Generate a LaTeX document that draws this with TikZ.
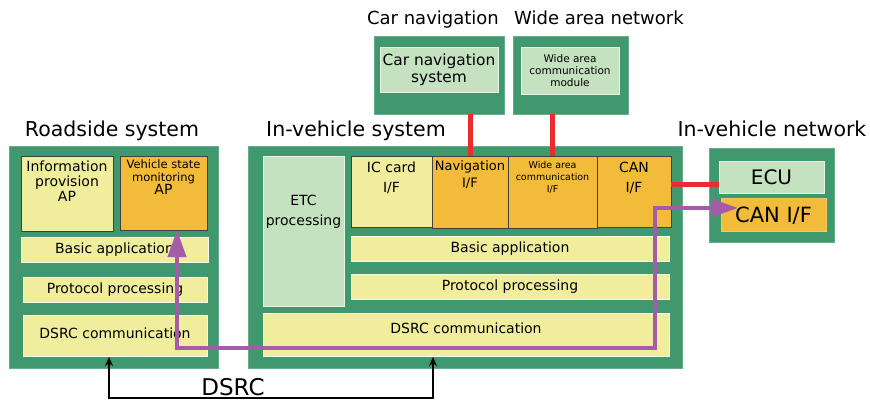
\documentclass[tikz,border=0pt]{standalone}
\usepackage{fontspec}
\setmainfont{DejaVu Sans}
\usetikzlibrary{fit,arrows.meta,calc}
\definecolor{grn}{RGB}{64,152,110}
\definecolor{ylw}{RGB}{240,238,156}
\definecolor{org}{RGB}{242,188,58}
\definecolor{lgr}{RGB}{196,226,192}
\definecolor{redc}{RGB}{236,44,44}
\definecolor{purc}{RGB}{164,92,168}
\begin{document}
\begin{tikzpicture}[x=1pt,y=-1pt,
  outer/.style={fill=grn,draw=grn!80!white,line width=0.6pt,inner sep=0pt},
  yb/.style={fill=ylw,draw=white!85!ylw,line width=0.6pt,inner sep=0pt},
  ybd/.style={fill=ylw,draw=black!75,line width=0.6pt,inner sep=0pt},
  obd/.style={fill=org,draw=black!75,line width=0.6pt,inner sep=0pt},
  ob/.style={fill=org,draw=org!80!white,line width=0.6pt,inner sep=0pt},
  gb/.style={fill=lgr,draw=white!60!lgr,line width=0.6pt,inner sep=0pt},
  txt/.style={inner sep=0pt,align=center},
  title/.style={inner sep=0pt,anchor=base,font=\fontsize{20.5}{24}\selectfont},
  ftf/.style={font=\fontsize{14}{17}\selectfont},
  redl/.style={draw=redc,line width=5pt},
  purl/.style={draw=purc,line width=4pt,{Triangle[length=27pt,width=18pt]}-{Triangle[length=27pt,width=18pt]}},
  blk/.style={draw=black,line width=1.8pt,{Stealth[length=9pt,width=8pt]}-{Stealth[length=9pt,width=8pt]}}
]
\useasboundingbox (0,0) rectangle (870,401);

% titles
\node[title] (t1) at (112,136) {Roadside system};
\node[title] (t2) at (356,136) {In-vehicle system};
\node[title] (t3) at (772,136) {In-vehicle network};
\node[title,font=\fontsize{18}{22}\selectfont] (t4) at (433,25) {Car navigation};
\node[title,font=\fontsize{18}{22}\selectfont] (t5) at (599,25) {Wide area network};

% outer boxes
\node[outer,fit={(9,146)(218,368)}] (rs) {};
\node[outer,fit={(248,146)(682,368)}] (iv) {};
\node[outer,fit={(374,36)(504,114)}] (cn) {};
\node[outer,fit={(513,36)(628,114)}] (wan) {};
\node[outer,fit={(709,148)(834,242)}] (ivn) {};

% roadside contents
\node[ybd,fit={(21,156)(113,231)}] (ipap) {};
\node[txt,anchor=north,font=\fontsize{14}{15}\selectfont] (ipapt) at ($(ipap.north)+(0,5)$) {Information\\provision\\AP};
\node[obd,fit={(120,156)(207,230)}] (vsap) {};
\node[txt,anchor=north,font=\fontsize{11.5}{12.5}\selectfont] (vsapt) at ($(vsap.north)+(0,4)$) {Vehicle state\\monitoring\\{\fontsize{14}{12.5}\selectfont AP}};
\node[yb,fit={(21,237)(208,262)}] (rsba) {};
\node[txt,ftf] (rsbat) at (rsba.center) {Basic application};
\node[yb,fit={(23,277)(207,302)}] (rspp) {};
\node[txt,ftf] (rsppt) at (rspp.center) {Protocol processing};
\node[yb,fit={(23,315)(207,356)}] (rsds) {};
\node[txt,ftf] (rsdst) at ($(rsds.center)+(0,-2)$) {DSRC communication};

% in-vehicle contents
\node[gb,fit={(263,156)(344,306)}] (etc) {};
\node[txt,font=\fontsize{14}{20}\selectfont] (etct) at (303.5,212) {ETC\\processing};
\node[ybd,fit={(351,156)(432,227)}] (icif) {};
\node[txt,anchor=north,font=\fontsize{14}{20}\selectfont] (icift) at ($(icif.north)+(0,6)$) {IC card\\I/F};
\node[obd,fit={(432,156)(508,228)}] (navif) {};
\node[txt,anchor=north,font=\fontsize{13}{17}\selectfont] (navift) at ($(navif.north)+(0,5)$) {Navigation\\I/F};
\node[obd,fit={(508,156)(597,228)}] (waif) {};
\node[txt,anchor=north,font=\fontsize{9.5}{12}\selectfont] (waift) at ($(waif.north)+(0,5)$) {Wide area\\communication\\I/F};
\node[obd,fit={(597,156)(671,227)}] (canif) {};
\node[txt,anchor=north,font=\fontsize{14}{20}\selectfont] (canift) at ($(canif.north)+(0,6)$) {CAN\\I/F};
\node[yb,fit={(351,236)(669,261)}] (ivba) {};
\node[txt,ftf] (ivbat) at (ivba.center) {Basic application};
\node[yb,fit={(351,274)(669,299)}] (ivpp) {};
\node[txt,ftf] (ivppt) at (ivpp.center) {Protocol processing};
\node[yb,fit={(263,313)(669,356)}] (ivds) {};
\node[txt,ftf] (ivdst) at ($(ivds.center)+(0,-6)$) {DSRC communication};

% top modules
\node[gb,fit={(380,47)(498,92)}] (cns) {};
\node[txt,font=\fontsize{15.4}{17}\selectfont] (cnst) at (cns.center) {Car navigation\\system};
\node[gb,fit={(521,47)(619,94)}] (wacm) {};
\node[txt,font=\fontsize{10.5}{12}\selectfont] (wacmt) at (wacm.center) {Wide area\\communication\\module};

% in-vehicle network
\node[gb,fit={(719,161)(824,193)}] (ecu) {};
\node[txt,font=\fontsize{20}{24}\selectfont] (ecut) at (ecu.center) {ECU};
\node[ob,fit={(721,198)(826,231)}] (can2) {};
\node[txt,font=\fontsize{21}{24}\selectfont] (can2t) at ($(can2.center)+(0,1)$) {CAN I/F};

% red connectors
\draw[redl] (navif.north) -- (navif.north |- cn.south);
\draw[redl] (waif.north) -- (waif.north |- wan.south);
\coordinate (r1) at (671,184);
\draw[redl] (r1) -- (r1 -| ecu.west);

% purple path
\coordinate (pA) at (177,230);
\coordinate (pB) at (655,348);
\coordinate (pC) at (738,208);
\draw[purl] (pA) |- (pB) |- (pC);

% DSRC black link
\coordinate (bL) at (109,357);
\coordinate (bR) at (433,357);
\coordinate (bLb) at (109,398);
\coordinate (bRb) at (433,398);
\draw[blk] (bL) -- (bLb) -- (bRb) -- (bR);
\node[title,font=\fontsize{23}{26}\selectfont] (dsrc) at (233,395) {DSRC};
\end{tikzpicture}
\end{document}
